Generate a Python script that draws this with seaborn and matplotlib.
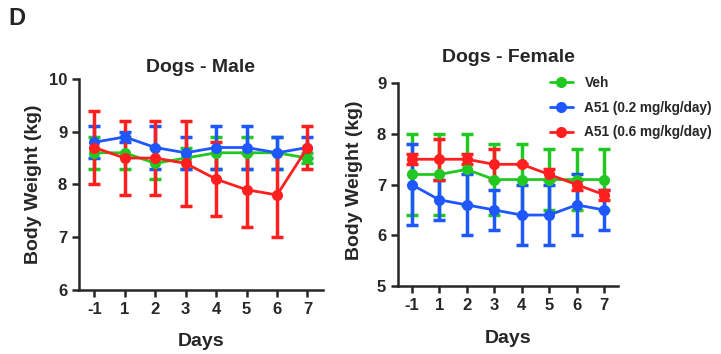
import numpy as np
import pandas as pd
import seaborn as sns
import matplotlib.pyplot as plt

days = ['-1', '1', '2', '3', '4', '5', '6', '7']
groups = ['Veh', 'A51 (0.2 mg/kg/day)', 'A51 (0.6 mg/kg/day)']

# male dogs, mean and sd
male_veh = [8.6, 8.6, 8.4, 8.5, 8.6, 8.6, 8.6, 8.5]
male_veh_sd = [0.3, 0.3, 0.3, 0.2, 0.3, 0.3, 0.3, 0.1]
male_low = [8.8, 8.9, 8.7, 8.6, 8.7, 8.7, 8.6, 8.7]
male_low_sd = [0.3, 0.1, 0.4, 0.3, 0.4, 0.4, 0.3, 0.2]
male_high = [8.7, 8.5, 8.5, 8.4, 8.1, 7.9, 7.8, 8.7]
male_high_sd = [0.7, 0.7, 0.7, 0.8, 0.7, 0.7, 0.8, 0.4]

# female dogs, mean and sd
fem_veh = [7.2, 7.2, 7.3, 7.1, 7.1, 7.1, 7.1, 7.1]
fem_veh_sd = [0.8, 0.8, 0.7, 0.7, 0.7, 0.6, 0.6, 0.6]
fem_low = [7.0, 6.7, 6.6, 6.5, 6.4, 6.4, 6.6, 6.5]
fem_low_sd = [0.8, 0.4, 0.6, 0.4, 0.6, 0.6, 0.6, 0.4]
fem_high = [7.5, 7.5, 7.5, 7.4, 7.4, 7.2, 7.0, 6.8]
fem_high_sd = [0.1, 0.4, 0.1, 0.3, 0.0, 0.1, 0.1, 0.1]

colors = ['#22c822', '#1f57ff', '#ff1f1f']

sns.set_style('ticks')
plt.rcParams['font.family'] = ['Liberation Sans', 'DejaVu Sans']
plt.rcParams['font.weight'] = 'bold'


def make_df(means, sds):
    rows = []
    for g, m, s in zip(groups, means, sds):
        for i, d in enumerate(days):
            rows.append({'pos': i, 'day': d, 'group': g, 'mean': m[i], 'sd': s[i]})
    return pd.DataFrame(rows)


def draw(ax, df, title, ylim, show_legend, pad):
    for g, c in zip(groups, colors):
        sub = df[df['group'] == g]
        ax.errorbar(sub['pos'], sub['mean'], yerr=sub['sd'], fmt='none',
                    ecolor=c, elinewidth=2.5, capsize=4.5, capthick=2.5, zorder=2)
    sns.lineplot(data=df, x='pos', y='mean', hue='group', hue_order=groups,
                 palette=colors, marker='o', markersize=8, markeredgewidth=0,
                 linewidth=2, ax=ax, legend=show_legend, zorder=3)
    ax.set_xlim(-0.5, 7.5)
    ax.set_ylim(*ylim)
    ax.set_yticks(np.arange(ylim[0], ylim[1] + 1, 1))
    ax.set_xticks(range(len(days)))
    ax.set_xticklabels(days)
    ax.tick_params(labelsize=12, width=1.8, length=5)
    ax.set_xlabel('Days', fontsize=14, fontweight='bold', labelpad=12)
    ax.set_ylabel('Body Weight (kg)', fontsize=14, fontweight='bold')
    ax.set_title(title, fontsize=14, fontweight='bold', pad=pad)
    for sp in ['left', 'bottom']:
        ax.spines[sp].set_linewidth(1.8)
    sns.despine(ax=ax)


fig = plt.figure(figsize=(7.21, 3.54), dpi=100)
ax1 = fig.add_axes([0.1096, 0.181, 0.338, 0.596])
ax2 = fig.add_axes([0.552, 0.192, 0.305, 0.573])

draw(ax1, make_df([male_veh, male_low, male_high],
                  [male_veh_sd, male_low_sd, male_high_sd]),
     'Dogs - Male', (6, 10), False, 5)
draw(ax2, make_df([fem_veh, fem_low, fem_high],
                  [fem_veh_sd, fem_low_sd, fem_high_sd]),
     'Dogs - Female', (5, 9), True, 15)
ax1.yaxis.set_label_coords(-0.152, 0.5)
ax2.yaxis.set_label_coords(-0.16, 0.52)

leg = ax2.legend(loc='upper left', bbox_to_anchor=(0.69, 1.035), frameon=False,
                 fontsize=9.8, handlelength=1.7, handletextpad=0.85,
                 labelspacing=0.78, borderaxespad=0, borderpad=0)
for t in leg.get_texts():
    t.set_fontweight('bold')

fig.text(0.012, 0.93, 'D', fontsize=17, fontweight='bold')

fig.savefig('out.png', dpi=100)
